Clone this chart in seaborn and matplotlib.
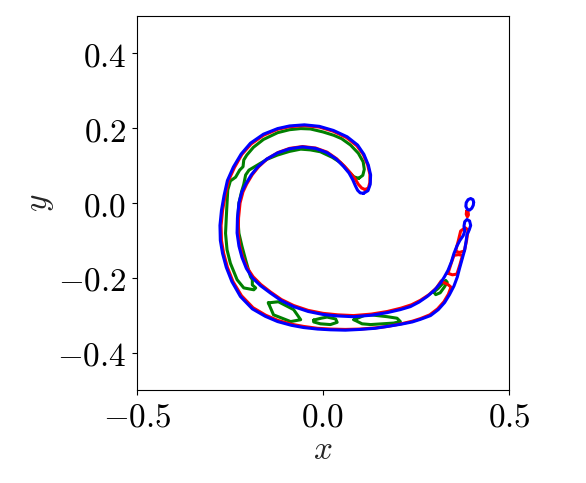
import numpy as np
import pandas as pd
import matplotlib
matplotlib.use("Agg")
import matplotlib.pyplot as plt
import seaborn as sns

# ---------------- data ----------------
xticks = [-0.5, 0.0, 0.5]
yticks = [-0.4, -0.2, 0.0, 0.2, 0.4]

# blue: main contour of the rolled-up filament
blue_x = [0.109, 0.121, 0.127, 0.128, 0.122, 0.110, 0.093, 0.065, 0.028, -0.010,
          -0.050, -0.090, -0.122, -0.160, -0.195, -0.220, -0.241, -0.257, -0.266, -0.273,
          -0.277, -0.276, -0.270, -0.260, -0.245, -0.222, -0.190, -0.155, -0.122, -0.085,
          -0.052, -0.015, 0.020, 0.060, 0.100, 0.140, 0.173, 0.210, 0.240, 0.262,
          0.289, 0.310, 0.327, 0.340, 0.352, 0.361, 0.367, 0.374, 0.381, 0.385,
          0.387, 0.393, 0.397, 0.394, 0.387, 0.381, 0.379, 0.381, 0.377, 0.368,
          0.360, 0.352, 0.345, 0.336, 0.326, 0.316, 0.300, 0.280, 0.258, 0.235,
          0.208, 0.173, 0.130, 0.082, 0.040, 0.000, -0.040, -0.079, -0.112, -0.141,
          -0.168, -0.190, -0.206, -0.218, -0.226, -0.231, -0.230, -0.226, -0.218, -0.208,
          -0.193, -0.176, -0.152, -0.122, -0.090, -0.055, -0.020, 0.010, 0.035, 0.055,
          0.070, 0.080, 0.087, 0.093, 0.100, 0.109]
blue_y = [0.026, 0.033, 0.050, 0.075, 0.101, 0.130, 0.155, 0.177, 0.194, 0.205,
          0.209, 0.206, 0.199, 0.184, 0.160, 0.131, 0.096, 0.060, 0.020, -0.020,
          -0.060, -0.100, -0.135, -0.172, -0.210, -0.250, -0.283, -0.303, -0.317, -0.327,
          -0.333, -0.337, -0.339, -0.340, -0.338, -0.335, -0.330, -0.324, -0.318, -0.311,
          -0.301, -0.285, -0.266, -0.245, -0.222, -0.198, -0.175, -0.150, -0.125, -0.100,
          -0.085, -0.072, -0.060, -0.048, -0.044, -0.050, -0.062, -0.075, -0.087, -0.100,
          -0.115, -0.135, -0.158, -0.180, -0.198, -0.214, -0.233, -0.250, -0.265, -0.277,
          -0.285, -0.293, -0.300, -0.304, -0.302, -0.298, -0.290, -0.277, -0.261, -0.241,
          -0.221, -0.200, -0.175, -0.145, -0.115, -0.080, -0.040, 0.000, 0.030, 0.050,
          0.075, 0.096, 0.117, 0.134, 0.145, 0.150, 0.146, 0.135, 0.118, 0.098,
          0.080, 0.062, 0.046, 0.034, 0.027, 0.026]
# blue: small detached loop at the tail end
blue_loop_x = [0.405, 0.403, 0.397, 0.390, 0.385, 0.384, 0.388, 0.394, 0.400, 0.404, 0.405]
blue_loop_y = [0.002, 0.009, 0.012, 0.009, 0.001, -0.009, -0.017, -0.019, -0.014, -0.006, 0.002]

# red: main contour
red_x = [0.113, 0.122, 0.126, 0.126, 0.120, 0.108, 0.091, 0.063, 0.027, -0.010,
         -0.050, -0.090, -0.122, -0.160, -0.193, -0.218, -0.238, -0.254, -0.263, -0.270,
         -0.274, -0.273, -0.267, -0.257, -0.242, -0.219, -0.188, -0.154, -0.121, -0.085,
         -0.052, -0.015, 0.020, 0.060, 0.100, 0.140, 0.173, 0.210, 0.240, 0.262,
         0.287, 0.308, 0.325, 0.337, 0.344, 0.336, 0.326, 0.318, 0.305, 0.285,
         0.262, 0.238, 0.210, 0.173, 0.130, 0.082, 0.040, 0.000, -0.040, -0.079,
         -0.112, -0.141, -0.167, -0.188, -0.204, -0.216, -0.224, -0.228, -0.227, -0.223,
         -0.215, -0.205, -0.190, -0.173, -0.150, -0.121, -0.090, -0.055, -0.020, 0.011,
         0.037, 0.058, 0.074, 0.086, 0.095, 0.104, 0.113]
red_y = [0.036, 0.040, 0.055, 0.077, 0.102, 0.130, 0.153, 0.175, 0.192, 0.203,
         0.207, 0.204, 0.197, 0.181, 0.158, 0.130, 0.095, 0.060, 0.020, -0.020,
         -0.060, -0.100, -0.135, -0.172, -0.210, -0.248, -0.280, -0.300, -0.314, -0.324,
         -0.330, -0.335, -0.337, -0.338, -0.337, -0.334, -0.330, -0.323, -0.316, -0.309,
         -0.299, -0.283, -0.264, -0.244, -0.225, -0.218, -0.213, -0.208, -0.227, -0.245,
         -0.260, -0.272, -0.281, -0.290, -0.297, -0.301, -0.299, -0.295, -0.287, -0.274,
         -0.258, -0.238, -0.218, -0.197, -0.173, -0.144, -0.114, -0.080, -0.040, 0.000,
         0.030, 0.051, 0.076, 0.097, 0.118, 0.135, 0.146, 0.151, 0.147, 0.136,
         0.118, 0.098, 0.080, 0.065, 0.050, 0.040, 0.036]
# red: islands along the tail
red_isl1_x = [0.336, 0.345, 0.352, 0.364, 0.375, 0.368, 0.360, 0.348, 0.336]
red_isl1_y = [-0.188, -0.160, -0.140, -0.138, -0.140, -0.165, -0.190, -0.192, -0.188]
red_isl2_x = [0.356, 0.364, 0.370, 0.382, 0.390, 0.386, 0.380, 0.368, 0.356]
red_isl2_y = [-0.130, -0.100, -0.075, -0.066, -0.072, -0.100, -0.128, -0.132, -0.130]
red_dot_x = [0.386, 0.390, 0.391, 0.388, 0.385, 0.386]
red_dot_y = [-0.022, -0.024, -0.032, -0.037, -0.030, -0.022]

# green: main contour
green_x = [0.096, 0.107, 0.111, 0.108, 0.095, 0.074, 0.050, 0.029, 0.000, -0.034,
           -0.060, -0.090, -0.122, -0.160, -0.187, -0.205, -0.213, -0.215, -0.224, -0.235,
           -0.249, -0.256, -0.259, -0.262, -0.258, -0.249, -0.231, -0.213, -0.186, -0.181,
           -0.190, -0.190, -0.195, -0.208, -0.218, -0.226, -0.229, -0.226, -0.219, -0.213,
           -0.208, -0.199, -0.177, -0.150, -0.123, -0.090, -0.060, -0.034, -0.007, 0.025,
           0.047, 0.062, 0.074, 0.083, 0.096]
green_y = [0.066, 0.074, 0.090, 0.110, 0.133, 0.155, 0.172, 0.181, 0.190, 0.198,
           0.199, 0.196, 0.188, 0.170, 0.149, 0.128, 0.115, 0.097, 0.088, 0.069,
           0.059, 0.035, -0.019, -0.081, -0.125, -0.161, -0.205, -0.227, -0.232, -0.227,
           -0.219, -0.205, -0.197, -0.152, -0.115, -0.081, -0.040, 0.000, 0.030, 0.050,
           0.075, 0.088, 0.101, 0.117, 0.128, 0.138, 0.144, 0.142, 0.137, 0.122,
           0.108, 0.092, 0.079, 0.070, 0.066]
# green: blobs along the bottom of the band
green_b1_x = [-0.147, -0.120, -0.079, -0.060, -0.087, -0.133, -0.147]
green_b1_y = [-0.267, -0.264, -0.285, -0.312, -0.317, -0.299, -0.267]
green_b2_x = [-0.025, -0.005, 0.011, 0.034, 0.038, 0.020, -0.007, -0.025, -0.025]
green_b2_y = [-0.313, -0.308, -0.305, -0.310, -0.319, -0.325, -0.323, -0.318, -0.313]
green_b3_x = [0.083, 0.110, 0.128, 0.173, 0.199, 0.208, 0.190, 0.128, 0.105, 0.083]
green_b3_y = [-0.312, -0.301, -0.299, -0.304, -0.308, -0.317, -0.321, -0.325, -0.323, -0.312]
green_b4_x = [0.298, 0.310, 0.322, 0.330, 0.334, 0.326, 0.315, 0.303, 0.298]
green_b4_y = [-0.238, -0.228, -0.215, -0.207, -0.212, -0.225, -0.240, -0.245, -0.238]


def frame(parts):
    rows = []
    for k, (xs, ys) in enumerate(parts):
        for i, (a, b) in enumerate(zip(xs, ys)):
            rows.append({"x": a, "y": b, "seg": k, "order": i})
    return pd.DataFrame(rows)


green_df = frame([(green_x, green_y), (green_b1_x, green_b1_y), (green_b2_x, green_b2_y),
                  (green_b3_x, green_b3_y), (green_b4_x, green_b4_y)])
red_df = frame([(red_x, red_y), (red_isl1_x, red_isl1_y), (red_isl2_x, red_isl2_y),
                (red_dot_x, red_dot_y)])
blue_df = frame([(blue_x, blue_y), (blue_loop_x, blue_loop_y)])

# ---------------- style ----------------
sns.set_theme(style="ticks")
plt.rcParams["font.family"] = ["DejaVu Sans"]
plt.rcParams["mathtext.fontset"] = "cm"
plt.rcParams["axes.edgecolor"] = "black"
plt.rcParams["axes.linewidth"] = 0.8
plt.rcParams["xtick.color"] = "black"
plt.rcParams["ytick.color"] = "black"
plt.rcParams["xtick.major.size"] = 3.5
plt.rcParams["ytick.major.size"] = 3.5
plt.rcParams["xtick.major.width"] = 0.8
plt.rcParams["ytick.major.width"] = 0.8
plt.rcParams["lines.solid_joinstyle"] = "round"
plt.rcParams["lines.solid_capstyle"] = "round"

fig = plt.figure(figsize=(5.86, 4.83), dpi=100)
ax = fig.add_axes([0.2338, 0.1925, 0.6348, 0.7744])

lw = 2.2
for df, col in [(green_df, "green"), (red_df, "red"), (blue_df, "blue")]:
    sns.lineplot(data=df, x="x", y="y", units="seg", estimator=None, sort=False,
                 color=col, linewidth=lw, ax=ax, legend=False)
for ln in ax.lines:
    ln.set_solid_joinstyle("round")
    ln.set_solid_capstyle("round")

ax.set_xlim(-0.5, 0.5)
ax.set_ylim(-0.5, 0.5)
ax.set_xticks(xticks, labels=[f"${t:.1f}$" for t in xticks])
ax.set_yticks(yticks, labels=[f"${t:.1f}$" for t in yticks])
ax.tick_params(axis="both", labelsize=24, pad=4)
ax.set_xlabel("$x$", fontsize=24, labelpad=0)
ax.set_ylabel("$y$", fontsize=24, labelpad=1)
for s in ax.spines.values():
    s.set_visible(True)
    s.set_color("black")

fig.savefig("out.png", dpi=100)
